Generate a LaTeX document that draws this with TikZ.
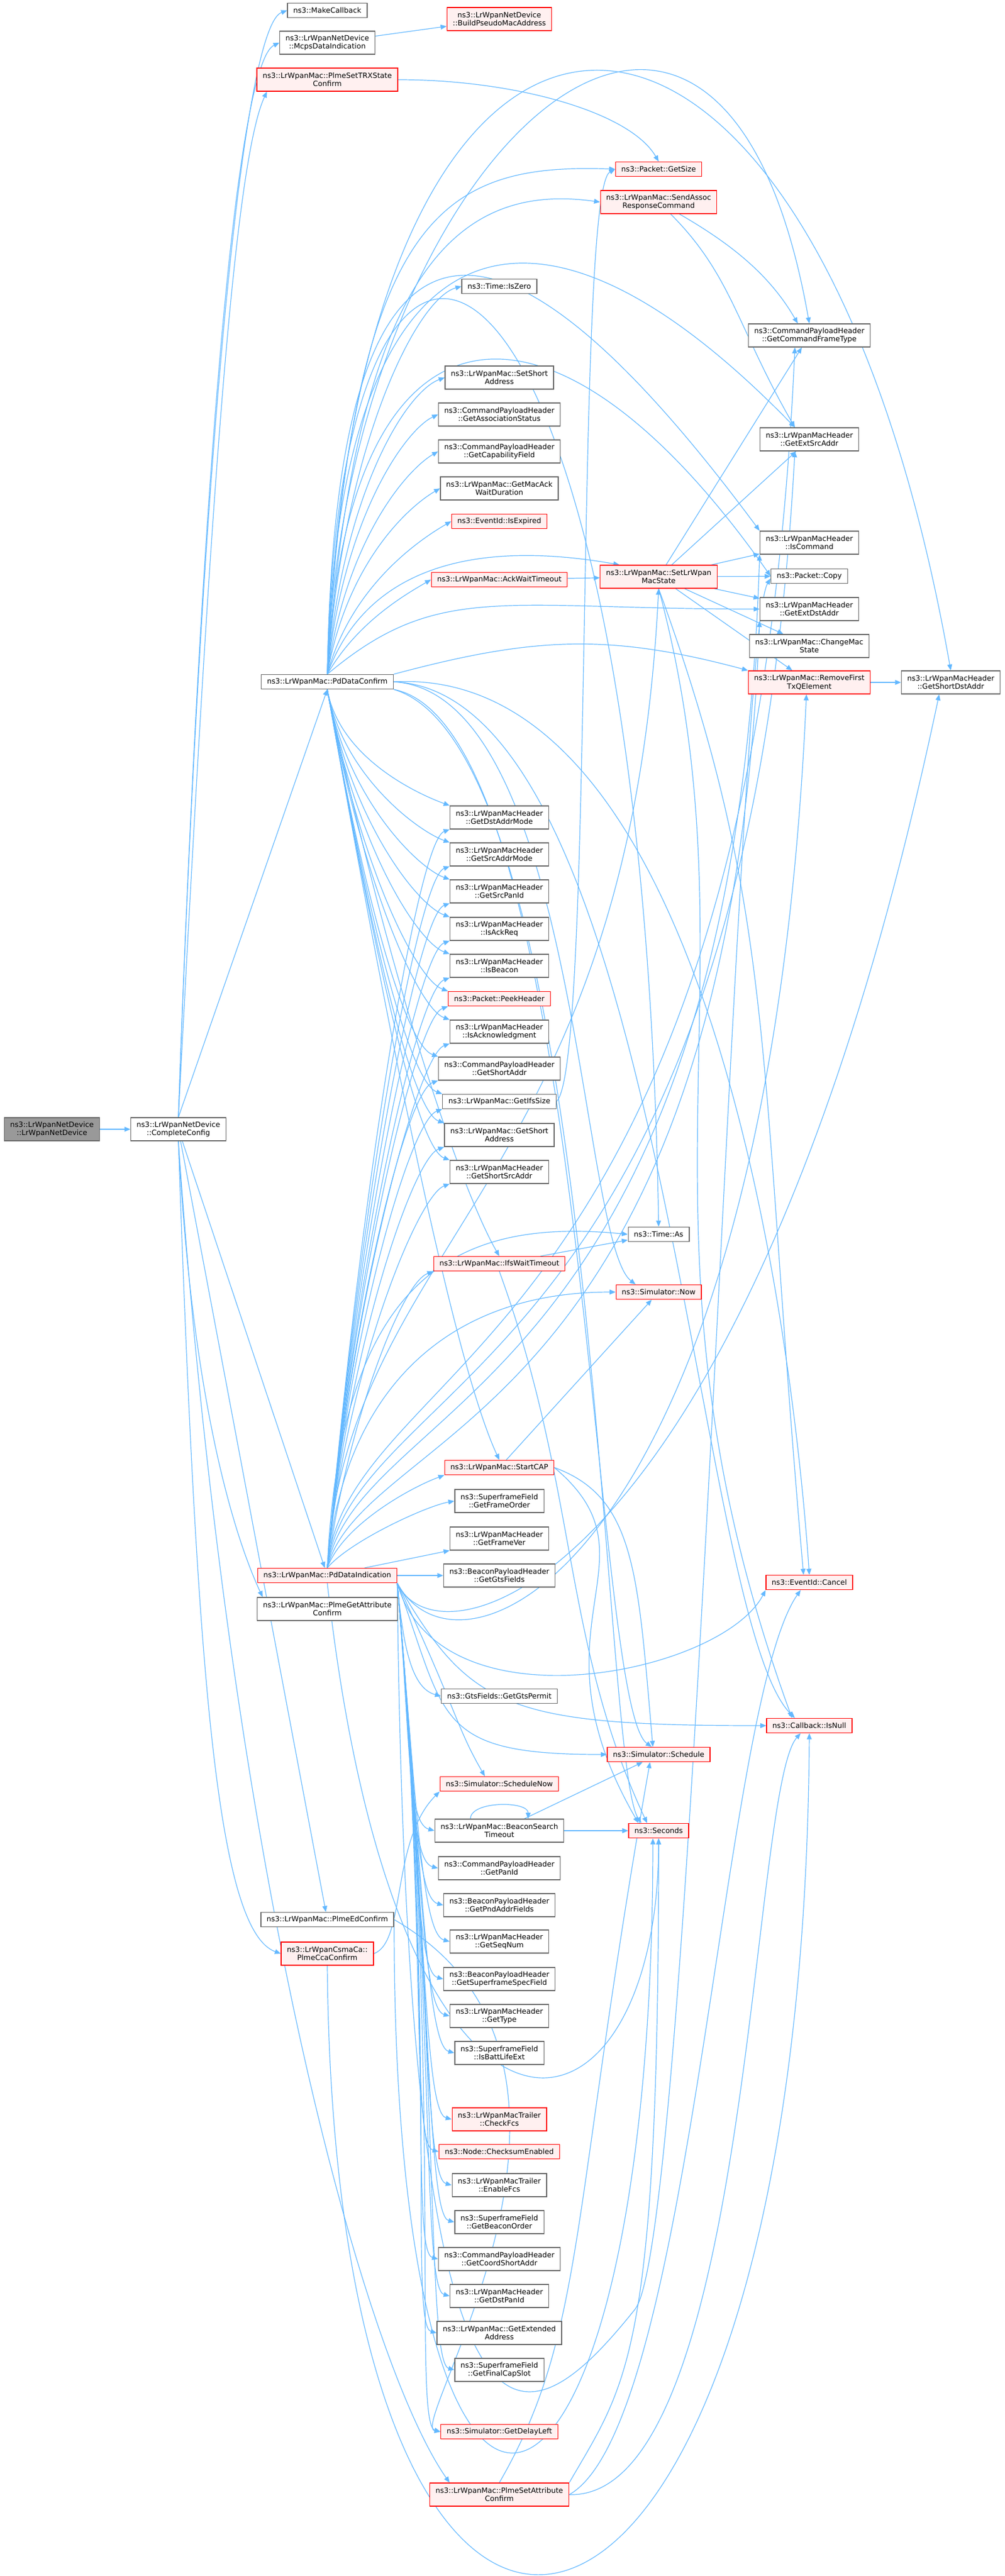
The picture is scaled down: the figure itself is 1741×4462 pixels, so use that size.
\documentclass[tikz,border=0pt]{standalone}
\usepackage{fontspec}
\setmainfont{DejaVu Sans}
\usetikzlibrary{arrows.meta}

\definecolor{edgeblue}{HTML}{63B8FF}
\definecolor{boxgrey}{HTML}{666666}
\definecolor{hotred}{HTML}{FF0000}
\definecolor{hotfill}{HTML}{FFF0F0}
\definecolor{rootfill}{HTML}{999999}

\pgfdeclarelayer{edges}
\pgfsetlayers{edges,main}

\tikzset{
  fn/.style={draw=boxgrey, fill=white, line width=0.35pt, inner xsep=2.5pt, inner ysep=1pt,
    minimum height=6.25pt, align=center, font=\fontsize{3.15}{3.6}\selectfont},
  hot/.style={fn, draw=hotred, fill=hotfill},
  root/.style={fn, fill=rootfill},
  tall/.style={minimum height=10pt},
  call/.style={color=edgeblue, line width=0.3pt, -{Triangle[length=2.6pt,width=2.1pt,fill=edgeblue]}}
}

\begin{document}
\begin{tikzpicture}[x=0.25pt,y=-0.25pt]
\useasboundingbox (0,0) rectangle (1741,4462);

% callers
\node[root, tall](LrWpanNetDevice) at (90,1956) {ns3::LrWpanNetDevice\\::LrWpanNetDevice};
\node[fn, tall](CompleteConfig) at (309,1956) {ns3::LrWpanNetDevice\\::CompleteConfig};

\node[fn](MakeCallback) at (567,18) {ns3::MakeCallback};
\node[fn, tall](McpsDataIndication) at (567,74) {ns3::LrWpanNetDevice\\::McpsDataIndication};
\node[hot, tall](PlmeSetTRXStateConfirm) at (567,138) {ns3::LrWpanMac::PlmeSetTRXState\\Confirm};
\node[fn](PdDataConfirm) at (567,1181) {ns3::LrWpanMac::PdDataConfirm};
\node[hot](PdDataIndication) at (567,2729) {ns3::LrWpanMac::PdDataIndication};
\node[fn, tall](PlmeGetAttributeConfirm) at (567,2787) {ns3::LrWpanMac::PlmeGetAttribute\\Confirm};
\node[fn](PlmeEdConfirm) at (567,3325) {ns3::LrWpanMac::PlmeEdConfirm};
\node[hot, tall](PlmeCcaConfirm) at (567,3384) {ns3::LrWpanCsmaCa::\\PlmeCcaConfirm};

\node[hot, tall](BuildPseudoMacAddress) at (865,33) {ns3::LrWpanNetDevice\\::BuildPseudoMacAddress};
\node[fn](IsZero) at (865,496) {ns3::Time::IsZero};
\node[fn, tall](SetShortAddress) at (865,654) {ns3::LrWpanMac::SetShort\\Address};
\node[fn, tall](GetAssociationStatus) at (865,718) {ns3::CommandPayloadHeader\\::GetAssociationStatus};
\node[fn, tall](GetCapabilityField) at (865,782) {ns3::CommandPayloadHeader\\::GetCapabilityField};
\node[fn, tall](GetMacAckWaitDuration) at (865,846) {ns3::LrWpanMac::GetMacAck\\WaitDuration};
\node[hot](IsExpired) at (865,903) {ns3::EventId::IsExpired};
\node[hot](AckWaitTimeout) at (865,1004) {ns3::LrWpanMac::AckWaitTimeout};
\node[fn, tall](GetDstAddrMode) at (865,1416) {ns3::LrWpanMacHeader\\::GetDstAddrMode};
\node[fn, tall](GetSrcAddrMode) at (865,1480) {ns3::LrWpanMacHeader\\::GetSrcAddrMode};
\node[fn, tall](GetSrcPanId) at (865,1544) {ns3::LrWpanMacHeader\\::GetSrcPanId};
\node[fn, tall](IsAckReq) at (865,1609) {ns3::LrWpanMacHeader\\::IsAckReq};
\node[fn, tall](IsBeacon) at (865,1673) {ns3::LrWpanMacHeader\\::IsBeacon};
\node[hot](PeekHeader) at (865,1730) {ns3::Packet::PeekHeader};
\node[fn, tall](IsAcknowledgment) at (865,1787) {ns3::LrWpanMacHeader\\::IsAcknowledgment};
\node[fn, tall](CmdGetShortAddr) at (865,1851) {ns3::CommandPayloadHeader\\::GetShortAddr};
\node[fn](GetIfsSize) at (865,1908) {ns3::LrWpanMac::GetIfsSize};
\node[fn, tall](GetShortAddress) at (865,1966) {ns3::LrWpanMac::GetShort\\Address};
\node[fn, tall](GetShortSrcAddr) at (865,2030) {ns3::LrWpanMacHeader\\::GetShortSrcAddr};
\node[hot](IfsWaitTimeout) at (865,2189) {ns3::LrWpanMac::IfsWaitTimeout};
\node[hot](StartCAP) at (865,2542) {ns3::LrWpanMac::StartCAP};
\node[fn, tall](GetFrameOrder) at (865,2600) {ns3::SuperframeField\\::GetFrameOrder};
\node[fn, tall](GetFrameVer) at (865,2665) {ns3::LrWpanMacHeader\\::GetFrameVer};
\node[fn, tall](GetGtsFields) at (865,2729) {ns3::BeaconPayloadHeader\\::GetGtsFields};
\node[fn](GetGtsPermit) at (865,2938) {ns3::GtsFields::GetGtsPermit};
\node[hot](ScheduleNow) at (865,3090) {ns3::Simulator::ScheduleNow};
\node[fn, tall](BeaconSearchTimeout) at (865,3171) {ns3::LrWpanMac::BeaconSearch\\Timeout};
\node[fn, tall](GetPanId) at (865,3236) {ns3::CommandPayloadHeader\\::GetPanId};
\node[fn, tall](GetPndAddrFields) at (865,3300) {ns3::BeaconPayloadHeader\\::GetPndAddrFields};
\node[fn, tall](GetSeqNum) at (865,3363) {ns3::LrWpanMacHeader\\::GetSeqNum};
\node[fn, tall](GetSuperframeSpecField) at (865,3428) {ns3::BeaconPayloadHeader\\::GetSuperframeSpecField};
\node[fn, tall](GetType) at (865,3492) {ns3::LrWpanMacHeader\\::GetType};
\node[fn, tall](IsBattLifeExt) at (865,3556) {ns3::SuperframeField\\::IsBattLifeExt};
\node[hot, tall](CheckFcs) at (865,3671) {ns3::LrWpanMacTrailer\\::CheckFcs};
\node[hot](ChecksumEnabled) at (865,3727) {ns3::Node::ChecksumEnabled};
\node[fn, tall](EnableFcs) at (865,3785) {ns3::LrWpanMacTrailer\\::EnableFcs};
\node[fn, tall](GetBeaconOrder) at (865,3849) {ns3::SuperframeField\\::GetBeaconOrder};
\node[fn, tall](GetCoordShortAddr) at (865,3913) {ns3::CommandPayloadHeader\\::GetCoordShortAddr};
\node[fn, tall](GetDstPanId) at (865,3977) {ns3::LrWpanMacHeader\\::GetDstPanId};
\node[fn, tall](GetExtendedAddress) at (865,4041) {ns3::LrWpanMac::GetExtended\\Address};
\node[fn, tall](GetFinalCapSlot) at (865,4105) {ns3::SuperframeField\\::GetFinalCapSlot};
\node[hot](GetDelayLeft) at (865,4212) {ns3::Simulator::GetDelayLeft};
\node[hot, tall](PlmeSetAttributeConfirm) at (865,4321) {ns3::LrWpanMac::PlmeSetAttribute\\Confirm};

\node[hot](GetSize) at (1141,293) {ns3::Packet::GetSize};
\node[hot, tall](SendAssocResponseCommand) at (1141,350) {ns3::LrWpanMac::SendAssoc\\ResponseCommand};
\node[hot, tall](SetLrWpanMacState) at (1141,999) {ns3::LrWpanMac::SetLrWpan\\MacState};
\node[fn](TimeAs) at (1141,2138) {ns3::Time::As};
\node[hot](Now) at (1141,2238) {ns3::Simulator::Now};
\node[hot](Schedule) at (1141,3039) {ns3::Simulator::Schedule};
\node[hot](Seconds) at (1141,3171) {ns3::Seconds};

\node[fn, tall](GetCommandFrameType) at (1402,581) {ns3::CommandPayloadHeader\\::GetCommandFrameType};
\node[fn, tall](GetExtSrcAddr) at (1402,761) {ns3::LrWpanMacHeader\\::GetExtSrcAddr};
\node[fn, tall](IsCommand) at (1402,940) {ns3::LrWpanMacHeader\\::IsCommand};
\node[fn](Copy) at (1402,998) {ns3::Packet::Copy};
\node[fn, tall](GetExtDstAddr) at (1402,1055) {ns3::LrWpanMacHeader\\::GetExtDstAddr};
\node[fn, tall](ChangeMacState) at (1402,1119) {ns3::LrWpanMac::ChangeMac\\State};
\node[hot, tall](RemoveFirstTxQElement) at (1402,1182) {ns3::LrWpanMac::RemoveFirst\\TxQElement};
\node[hot](Cancel) at (1402,2741) {ns3::EventId::Cancel};
\node[hot](IsNull) at (1402,2989) {ns3::Callback::IsNull};
\node[fn, tall](GetShortDstAddr) at (1647,1182) {ns3::LrWpanMacHeader\\::GetShortDstAddr};

\begin{pgfonlayer}{edges}
% root and CompleteConfig
\path[call] (LrWpanNetDevice) edge (CompleteConfig);
\path[call] (CompleteConfig.north) edge[out=88,in=200,out distance=250pt,in distance=22.5pt] (MakeCallback.west);
\path[call] (CompleteConfig.north) edge[out=88,in=205,out distance=237.5pt,in distance=22.5pt] (McpsDataIndication.west);
\path[call] (CompleteConfig.north) edge[out=87,in=245,out distance=225pt,in distance=37.5pt] ([xshift=4.5pt]PlmeSetTRXStateConfirm.south west);
\path[call] (CompleteConfig.north) edge (PdDataConfirm.south);
\path[call] (CompleteConfig) edge (PdDataIndication);
\path[call] (CompleteConfig.south) edge[out=-87,in=115,out distance=125pt,in distance=20pt] ([xshift=2.5pt]PlmeGetAttributeConfirm.north west);
\path[call] (CompleteConfig) edge (PlmeEdConfirm);
\path[call] (CompleteConfig.south) edge[out=-88,in=160,out distance=225pt,in distance=30pt] (PlmeCcaConfirm.west);
\path[call] (CompleteConfig.south) edge[out=-86,in=125,out distance=325pt,in distance=62.5pt] ([xshift=8.75pt]PlmeSetAttributeConfirm.north west);

\path[call] (McpsDataIndication) edge (BuildPseudoMacAddress);
\path[call] (PlmeSetTRXStateConfirm.east) edge[out=0,in=120,out distance=50pt,in distance=25pt] (GetSize.north);

% PdDataConfirm, upwards
\path[call] (PdDataConfirm.north) edge[out=88,in=100,out distance=350pt,in distance=350pt] (GetShortDstAddr.north);
\path[call] (PdDataConfirm.north) edge[out=88,in=100,out distance=225pt,in distance=225pt] (GetCommandFrameType.north);
\path[call] (PdDataConfirm.north) edge[out=87,in=178,out distance=200pt,in distance=75pt] (GetSize.west);
\path[call] (PdDataConfirm.north) edge[out=86,in=172,out distance=175pt,in distance=62.5pt] (SendAssocResponseCommand.west);
\path[call] (PdDataConfirm.north) edge[out=86,in=195,out distance=100pt,in distance=20pt] (IsZero.west);
\path[call] (PdDataConfirm.north) edge[out=85,in=200,out distance=80pt,in distance=17.5pt] (SetShortAddress.west);
\path[call] (PdDataConfirm.north) edge[out=84,in=205,out distance=70pt,in distance=15pt] (GetAssociationStatus.west);
\path[call] (PdDataConfirm.north) edge[out=82,in=210,out distance=60pt,in distance=15pt] (GetCapabilityField.west);
\path[call] (PdDataConfirm.north) edge[out=80,in=210,out distance=50pt,in distance=15pt] (GetMacAckWaitDuration.west);
\path[call] (PdDataConfirm.north) edge[out=75,in=210,out distance=40pt,in distance=15pt] (IsExpired.west);
\path[call] (PdDataConfirm.north) edge[out=60,in=210,out distance=25pt,in distance=15pt] (AckWaitTimeout.west);
\path[call] (PdDataConfirm.north) edge[out=70,in=170,out distance=50pt,in distance=62.5pt] ([xshift=8.5pt]SetLrWpanMacState.north west);
\draw[call] (PdDataConfirm.north) .. controls (580,350) and (820,250) .. (IsCommand.north west);
\draw[call] (PdDataConfirm.north) .. controls (585,400) and (900,250) .. ([xshift=-6.25pt]GetExtSrcAddr.north);
\draw[call] (PdDataConfirm.north) .. controls (600,500) and (950,450) .. (Copy.west);
\draw[call] (PdDataConfirm.north) .. controls (585,100) and (1110,300) .. (TimeAs.north);
\path[call] (PdDataConfirm.north) edge[out=40,in=180,out distance=62.5pt,in distance=112.5pt] (GetExtDstAddr.west);
\path[call] (PdDataConfirm.north east) edge[out=15,in=165,out distance=62.5pt,in distance=62.5pt] (RemoveFirstTxQElement.north west);

% PdDataConfirm, downwards
\path[call] (PdDataConfirm.south) edge[out=-80,in=160,out distance=30pt,in distance=15pt] (GetDstAddrMode.north west);
\path[call] (PdDataConfirm.south) edge[out=-80,in=160,out distance=37.5pt,in distance=15pt] (GetSrcAddrMode.north west);
\path[call] (PdDataConfirm.south) edge[out=-80,in=160,out distance=47.5pt,in distance=15pt] (GetSrcPanId.north west);
\path[call] (PdDataConfirm.south) edge[out=-80,in=160,out distance=57.5pt,in distance=15pt] (IsAckReq.north west);
\path[call] (PdDataConfirm.south) edge[out=-80,in=160,out distance=67.5pt,in distance=15pt] (IsBeacon.north west);
\path[call] (PdDataConfirm.south) edge[out=-80,in=160,out distance=75pt,in distance=15pt] (PeekHeader.north west);
\path[call] (PdDataConfirm.south) edge[out=-80,in=160,out distance=82.5pt,in distance=15pt] (IsAcknowledgment.north west);
\path[call] (PdDataConfirm.south) edge[out=-80,in=160,out distance=92.5pt,in distance=15pt] (CmdGetShortAddr.north west);
\path[call] (PdDataConfirm.south) edge[out=-80,in=160,out distance=100pt,in distance=15pt] (GetIfsSize.north west);
\path[call] (PdDataConfirm.south) edge[out=-80,in=160,out distance=107.5pt,in distance=15pt] (GetShortAddress.north west);
\path[call] (PdDataConfirm.south) edge[out=-80,in=160,out distance=117.5pt,in distance=15pt] (GetShortSrcAddr.north west);
\path[call] (PdDataConfirm.south) edge[out=-78,in=120,out distance=137.5pt,in distance=30pt] (IfsWaitTimeout.north);
\path[call] (PdDataConfirm.south) edge[out=-80,in=115,out distance=200pt,in distance=37.5pt] (StartCAP.north);
\draw[call] (PdDataConfirm.east) .. controls (1000,1200) and (1005,2150) .. ([xshift=-10pt]Now.north);
\draw[call] (PdDataConfirm.south east) .. controls (1020,1260) and (1022,2950) .. ([xshift=-3pt]Schedule.north);
\draw[call] (PdDataConfirm.south east) .. controls (1040,1300) and (1040,3050) .. ([xshift=-7.5pt]Seconds.north);
\draw[call] (PdDataConfirm.east) .. controls (1250,1150) and (1380,2400) .. (Cancel.north);
\draw[call] (PdDataConfirm.east) .. controls (1150,1200) and (1200,2800) .. ([xshift=-6.25pt]IsNull.north);

% SendAssocResponseCommand, AckWaitTimeout, SetLrWpanMacState
\path[call] (SendAssocResponseCommand) edge[out=-30,in=120,out distance=25pt,in distance=25pt] ([xshift=-5pt]GetCommandFrameType.north);
\path[call] (SendAssocResponseCommand) edge[out=-45,in=120,out distance=37.5pt,in distance=50pt] ([xshift=-6.25pt]GetExtSrcAddr.north);
\path[call] (AckWaitTimeout) edge (SetLrWpanMacState);
\path[call] (SetLrWpanMacState) edge (GetCommandFrameType);
\path[call] (SetLrWpanMacState) edge (GetExtSrcAddr);
\path[call] (SetLrWpanMacState) edge (IsCommand);
\path[call] (SetLrWpanMacState) edge (Copy);
\path[call] (SetLrWpanMacState) edge (GetExtDstAddr);
\path[call] (SetLrWpanMacState) edge (ChangeMacState);
\path[call] (SetLrWpanMacState) edge (RemoveFirstTxQElement);
\path[call] (SetLrWpanMacState.south) edge[out=-70,in=95,out distance=150pt,in distance=225pt] ([xshift=-2.5pt]Cancel.north);
\path[call] (SetLrWpanMacState.south) edge[out=-75,in=110,out distance=175pt,in distance=225pt] ([xshift=-7.5pt]IsNull.north);
\path[call] (RemoveFirstTxQElement) edge (GetShortDstAddr);
\draw[call] (GetIfsSize.east) .. controls (1030,1850) and (995,330) .. (GetSize.west);

% PdDataIndication, upwards
\path[call] (PdDataIndication.north) edge[out=85,in=200,out distance=160pt,in distance=15pt] (GetDstAddrMode.south west);
\path[call] (PdDataIndication.north) edge[out=85,in=200,out distance=150pt,in distance=15pt] (GetSrcAddrMode.south west);
\path[call] (PdDataIndication.north) edge[out=85,in=200,out distance=142.5pt,in distance=15pt] (GetSrcPanId.south west);
\path[call] (PdDataIndication.north) edge[out=85,in=200,out distance=135pt,in distance=15pt] (IsAckReq.south west);
\path[call] (PdDataIndication.north) edge[out=85,in=200,out distance=127.5pt,in distance=15pt] (IsBeacon.south west);
\path[call] (PdDataIndication.north) edge[out=85,in=200,out distance=120pt,in distance=15pt] (PeekHeader.south west);
\path[call] (PdDataIndication.north) edge[out=85,in=200,out distance=112.5pt,in distance=15pt] (IsAcknowledgment.south west);
\path[call] (PdDataIndication.north) edge[out=85,in=200,out distance=105pt,in distance=15pt] (CmdGetShortAddr.south west);
\path[call] (PdDataIndication.north) edge[out=85,in=200,out distance=100pt,in distance=15pt] (GetIfsSize.south west);
\path[call] (PdDataIndication.north) edge[out=85,in=200,out distance=90pt,in distance=15pt] (GetShortAddress.south west);
\path[call] (PdDataIndication.north) edge[out=85,in=200,out distance=82.5pt,in distance=15pt] (GetShortSrcAddr.south west);
\path[call] (PdDataIndication.north) edge[out=82,in=200,out distance=62.5pt,in distance=15pt] (IfsWaitTimeout.south west);
\draw[call] (PdDataIndication.north) .. controls (590,2200) and (800,2110) .. (TimeAs.west);
\path[call] (PdDataIndication.north) edge[out=85,in=180,out distance=75pt,in distance=75pt] (Now.west);
\path[call] (PdDataIndication.north) edge[out=70,in=200,out distance=20pt,in distance=15pt] (StartCAP.south west);
\path[call] (PdDataIndication.north) edge[out=50,in=190,out distance=15pt,in distance=12.5pt] (GetFrameOrder.west);
\path[call] (PdDataIndication) edge (GetFrameVer.south west);
\path[call] (PdDataIndication) edge (GetGtsFields);
\draw[call] (PdDataIndication.north) .. controls (600,2150) and (1090,2050) .. (SetLrWpanMacState.south);
\draw[call] (PdDataIndication.south east) .. controls (760,2900) and (1300,2750) .. ([xshift=-5pt]GetShortDstAddr.south);
\draw[call] (PdDataIndication.north) .. controls (600,2350) and (1300,2350) .. ([xshift=-6.25pt]GetCommandFrameType.south);
\draw[call] (PdDataIndication.north) .. controls (610,2380) and (1290,2380) .. ([xshift=-6.25pt]GetExtSrcAddr.south);
\draw[call] (PdDataIndication.north) .. controls (620,2420) and (1270,2420) .. (IsCommand.south west);
\draw[call] (PdDataIndication.north) .. controls (630,2470) and (1260,2470) .. (GetExtDstAddr.south west);
\draw[call] (PdDataIndication.south east) .. controls (800,2950) and (1330,2700) .. ([xshift=-1.25pt]RemoveFirstTxQElement.south);

% PdDataIndication, downwards
\draw[call] (PdDataIndication.south east) .. controls (760,3000) and (1250,2900) .. (Cancel.south west);
\path[call] (PdDataIndication.south east) edge[out=-60,in=180,out distance=62.5pt,in distance=112.5pt] (IsNull.west);
\path[call] (PdDataIndication.south east) edge[out=-70,in=180,out distance=62.5pt,in distance=75pt] (Schedule.west);
\path[call] (PdDataIndication.south east) edge[out=-65,in=120,out distance=62.5pt,in distance=25pt] ([xshift=-6.25pt]ScheduleNow.north);
\path[call] (PdDataIndication.south east) edge[out=-85,in=165,out distance=30pt,in distance=12.5pt] (GetGtsPermit.west);
\path[call] (PdDataIndication.south east) edge[out=-85,in=165,out distance=65pt,in distance=12.5pt] (BeaconSearchTimeout.west);
\path[call] (PdDataIndication.south east) edge[out=-85,in=165,out distance=75pt,in distance=12.5pt] (GetPanId.west);
\path[call] (PdDataIndication.south east) edge[out=-85,in=165,out distance=85pt,in distance=12.5pt] (GetPndAddrFields.west);
\path[call] (PdDataIndication.south east) edge[out=-85,in=165,out distance=95pt,in distance=12.5pt] (GetSeqNum.west);
\path[call] (PdDataIndication.south east) edge[out=-85,in=165,out distance=105pt,in distance=12.5pt] (GetSuperframeSpecField.west);
\path[call] (PdDataIndication.south east) edge[out=-85,in=165,out distance=115pt,in distance=12.5pt] (GetType.west);
\path[call] (PdDataIndication.south east) edge[out=-85,in=165,out distance=125pt,in distance=12.5pt] (IsBattLifeExt.west);
\path[call] (PdDataIndication.south east) edge[out=-85,in=165,out distance=142.5pt,in distance=12.5pt] (CheckFcs.west);
\path[call] (PdDataIndication.south east) edge[out=-85,in=165,out distance=150pt,in distance=12.5pt] (ChecksumEnabled.west);
\path[call] (PdDataIndication.south east) edge[out=-85,in=165,out distance=160pt,in distance=12.5pt] (EnableFcs.west);
\path[call] (PdDataIndication.south east) edge[out=-85,in=165,out distance=170pt,in distance=12.5pt] (GetBeaconOrder.west);
\path[call] (PdDataIndication.south east) edge[out=-85,in=165,out distance=180pt,in distance=12.5pt] (GetCoordShortAddr.west);
\path[call] (PdDataIndication.south east) edge[out=-85,in=165,out distance=190pt,in distance=12.5pt] (GetDstPanId.west);
\path[call] (PdDataIndication.south east) edge[out=-85,in=165,out distance=200pt,in distance=12.5pt] (GetExtendedAddress.west);
\path[call] (PdDataIndication.south east) edge[out=-85,in=165,out distance=210pt,in distance=12.5pt] (GetFinalCapSlot.west);
\path[call] (PdDataIndication.south east) edge[out=-85,in=165,out distance=225pt,in distance=12.5pt] (GetDelayLeft.west);
\draw[call] (PdDataIndication.south) .. controls (690,3850) and (1140,3750) .. (Seconds.south);
\draw[call] (PdDataIndication.south east) .. controls (705,4350) and (900,4250) .. (1100,4000) .. controls (1200,3875) and (1275,1100) .. ([yshift=-1pt]Copy.west);

% the rest
\path[call] (IfsWaitTimeout) edge (TimeAs);
\path[call] (IfsWaitTimeout.south) edge[out=-70,in=115,out distance=100pt,in distance=87.5pt] ([xshift=-5pt]Seconds.north);
\path[call] (StartCAP) edge (Now);
\path[call] (StartCAP.east) edge[out=-20,in=95,out distance=37.5pt,in distance=75pt] ([xshift=-2.5pt]Schedule.north);
\path[call] (StartCAP.east) edge[out=-40,in=120,out distance=62.5pt,in distance=100pt] ([xshift=-8.75pt]Seconds.north);
\path[call] ([xshift=-12.5pt]BeaconSearchTimeout.north) edge[out=90,in=90,looseness=0.8] ([xshift=12.5pt]BeaconSearchTimeout.north);
\path[call] (BeaconSearchTimeout) edge (Schedule);
\path[call] (BeaconSearchTimeout) edge (Seconds);
\path[call] (PlmeEdConfirm.east) edge[out=-30,in=170,out distance=125pt,in distance=15pt] (GetDelayLeft.west);
\draw[call] (PlmeEdConfirm.east) .. controls (680,4650) and (1130,4500) .. ([xshift=-2.5pt]Seconds.south);
\path[call] (PlmeCcaConfirm.east) edge[out=20,in=-135,out distance=15pt,in distance=30pt] (ScheduleNow.south west);
\draw[call] (PlmeCcaConfirm.south) .. controls (580,4950) and (1390,4780) .. (IsNull.south);
\path[call] (PlmeSetAttributeConfirm.north) edge[out=60,in=-100,out distance=75pt,in distance=200pt] ([xshift=-3.75pt]Schedule.south);
\path[call] (PlmeSetAttributeConfirm.north east) edge[out=60,in=-90,out distance=50pt,in distance=225pt] (Seconds.south);
\draw[call] (PlmeSetAttributeConfirm.east) .. controls (1200,4200) and (1250,2950) .. ([xshift=-3.75pt]Cancel.south);
\draw[call] (PlmeSetAttributeConfirm.east) .. controls (1300,4330) and (1300,3100) .. ([xshift=-3.75pt]IsNull.south);
\end{pgfonlayer}
\end{tikzpicture}
\end{document}
